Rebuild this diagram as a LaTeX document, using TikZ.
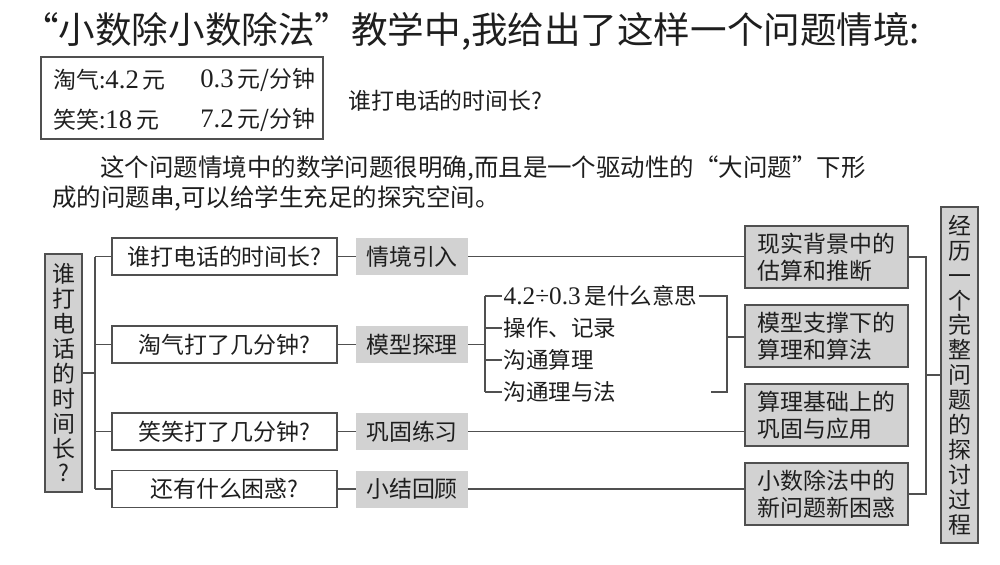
\documentclass[tikz,border=0pt]{standalone}
\usepackage{fontspec}
\setmainfont{Noto Sans CJK SC}
\newfontfamily\numfont{Liberation Serif}
\usetikzlibrary{positioning}
\definecolor{boxgray}{HTML}{D2D2D2}
\definecolor{linegray}{HTML}{505050}
\definecolor{inkgray}{HTML}{1E1E1E}
\newcommand\pxl{0.025cm}
\newcommand\numtxt[1]{{\numfont\fontsize{19}{19}\selectfont #1}}

\begin{document}
\begin{tikzpicture}[x=0.025cm,y=-0.025cm,
  every node/.style={text=inkgray},
  txt/.style={font=\fontsize{16.3}{17.7}\selectfont},
  qbox/.style={draw=linegray, line width=1.2pt, minimum width=225*\pxl, minimum height=37*\pxl, inner sep=0pt, txt},
  tagbox/.style={fill=boxgray, minimum width=112*\pxl, minimum height=37*\pxl, inner sep=0pt, txt},
  sumbox/.style={draw=linegray, line width=1.2pt, fill=boxgray, minimum width=163*\pxl, minimum height=62*\pxl, inner sep=0pt, align=left, font=\fontsize{16.3}{19.1}\selectfont},
  tallbox/.style={draw=linegray, line width=1.2pt, fill=boxgray, minimum width=37*\pxl, inner sep=0pt, align=center, font=\fontsize{16.3}{17.7}\selectfont},
  stepnote/.style={anchor=west, inner sep=1pt, font=\fontsize{16}{17}\selectfont},
  link/.style={draw=linegray, line width=1pt}]
\useasboundingbox (0,0) rectangle (1000,565);

% heading and the problem
\node[anchor=west, inner sep=0pt, font=\fontsize{26}{30}\selectfont] (title) at (22,31) {“小数除小数除法”教学中,我给出了这样一个问题情境:};
\node[draw=linegray, line width=1pt, minimum width=282*\pxl, minimum height=82*\pxl] (info) at (182,98) {};
\node[anchor=west, inner sep=0pt, txt] (d1) at (53,80) {淘气:\numtxt{4.2}\,元};
\node[anchor=west, inner sep=0pt, txt] (d2) at (200,80) {\numtxt{0.3}\,元/分钟};
\node[anchor=west, inner sep=0pt, txt] (d3) at (53,120) {笑笑:\numtxt{18}\,元};
\node[anchor=west, inner sep=0pt, txt] (d4) at (200,120) {\numtxt{7.2}\,元/分钟};
\node[anchor=west, inner sep=0pt, txt] (ask) at (348,101) {谁打电话的时间长?};
\node[anchor=west, inner sep=0pt, font=\fontsize{17.4}{20}\selectfont] (p1) at (100,168) {这个问题情境中的数学问题很明确,而且是一个驱动性的“大问题”下形};
\node[anchor=west, inner sep=0pt, font=\fontsize{17.4}{20}\selectfont] (p2) at (52,198) {成的问题串,可以给学生充足的探究空间。};

% left part
\node[tallbox, minimum height=238*\pxl] (root) at (63.5,373) {谁\\打\\电\\话\\的\\时\\间\\长\\?};
\node[qbox] (q1) at (224.5,256.5) {谁打电话的时间长?};
\node[qbox] (q2) at (224.5,344.5) {淘气打了几分钟?};
\node[qbox] (q3) at (224.5,431.5) {笑笑打了几分钟?};
\node[qbox] (q4) at (224.5,489) {还有什么困惑?};
\node[tagbox] (g1) at (412,256.5) {情境引入};
\node[tagbox] (g2) at (412,344.5) {模型探理};
\node[tagbox] (g3) at (412,431.5) {巩固练习};
\node[tagbox] (g4) at (412,489) {小结回顾};

% steps of the model part
\node[stepnote] (s1) at (502,296) {{\numfont\fontsize{18}{18}\selectfont 4.2÷0.3}\,是什么意思};
\node[stepnote] (s2) at (502,328) {操作、记录};
\node[stepnote] (s3) at (502,360) {沟通算理};
\node[stepnote] (s4) at (502,392) {沟通理与法};

% right part
\node[sumbox] (r1) at (826.5,257) {现实背景中的\\估算和推断};
\node[sumbox] (r2) at (826.5,336) {模型支撑下的\\算理和算法};
\node[sumbox] (r3) at (826.5,415) {算理基础上的\\巩固与应用};
\node[sumbox] (r4) at (826.5,494) {小数除法中的\\新问题新困惑};
\node[tallbox, minimum height=336*\pxl] (goal) at (959.5,375) {经\\历\\一\\个\\完\\整\\问\\题\\的\\探\\讨\\过\\程};

% connectors
\coordinate (trunk) at (95,373);
\draw[link] (root.east) -- (trunk);
\draw[link] (trunk |- q1.west) -- (trunk |- q4.west);
\foreach \i in {1,...,4} {
  \draw[link] (trunk |- q\i.west) -- (q\i.west);
  \draw[link] (q\i.east) -- (g\i.west);
}
\draw[link] (g1.east) -- (g1.east -| r1.west);
\draw[link] (g3.east) -- (g3.east -| r3.west);
\draw[link] (g4.east) -- (g4.east -| r4.west);

\coordinate (lb) at (485,344.5);
\draw[link] (g2.east) -- (lb);
\draw[link] (lb |- s1.west) -- (lb |- s4.west);
\foreach \i in {1,...,4} \draw[link] (lb |- s\i.west) -- (s\i.west);

\coordinate (rb) at (727,337);
\coordinate (rbot) at (711,392);
\draw[link] (s1.east) -- (s1.east -| rb) -- (rbot -| rb) -- (rbot);
\draw[link] (rb) -- (rb -| r2.west);

\coordinate (rc) at (926,375);
\draw[link] (r1.east) -- (r1.east -| rc) -- (r4.east -| rc) -- (r4.east);
\draw[link] (rc) -- (goal.west);
\end{tikzpicture}
\end{document}
